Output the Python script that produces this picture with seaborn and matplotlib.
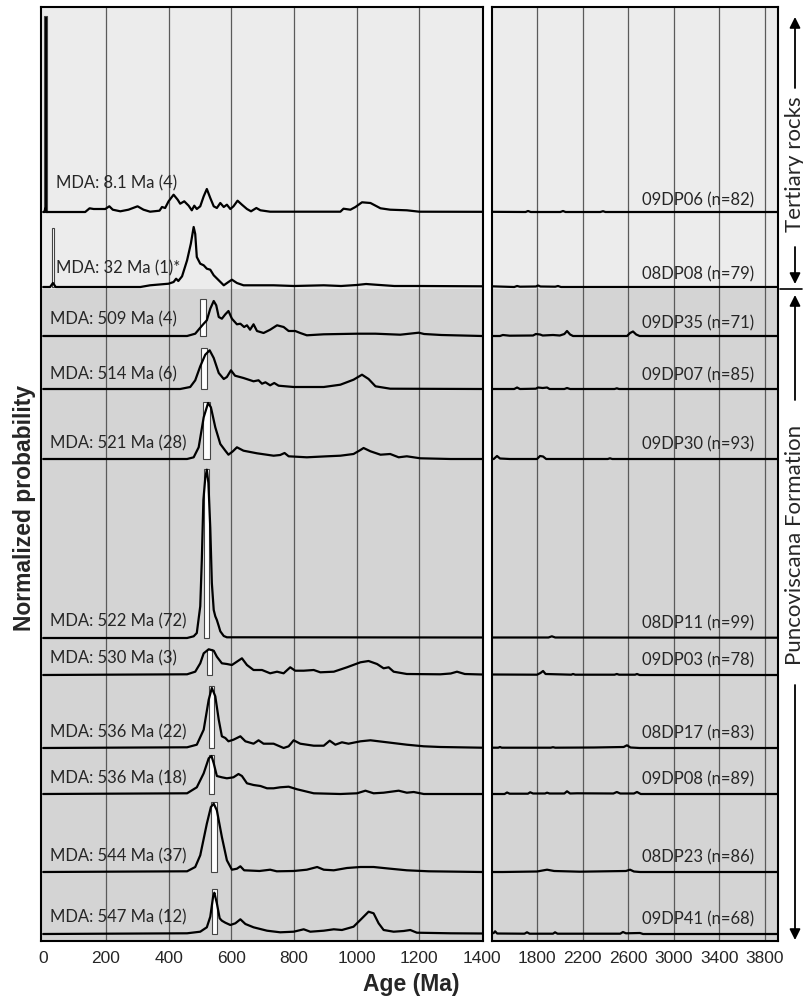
import numpy as np
import pandas as pd
import matplotlib.pyplot as plt
import seaborn as sns

# samples, top to bottom
samples = ['09DP06', '08DP08', '09DP35', '09DP07', '09DP30', '08DP11',
           '09DP03', '08DP17', '09DP08', '08DP23', '09DP41']
n_grains = [82, 79, 71, 85, 93, 99, 78, 83, 89, 86, 68]
mda_age = [8.1, 32, 509, 514, 521, 522, 530, 536, 536, 544, 547]
mda_n = [4, 1, 4, 6, 28, 72, 3, 22, 18, 37, 12]
mda_mark = ['', '*', '', '', '', '', '', '', '', '', '']
mda_err = [4, 4, 10, 9, 10, 7.5, 8, 8, 8, 9, 9]
mda_top = [196, 59, 36.7, 40.7, 56.7, 169, 25.7, 61.7, 39, 70, 44.7]

# probability curves (age in Ma, height above baseline)
age_09DP06 = [0, 4, 7, 10, 134, 148, 161, 198, 211, 222, 246, 272, 301, 320, 341, 371, 379, 389, 400, 416,
              429, 437, 450, 464, 474, 482, 490, 501, 512, 522, 533, 544, 554, 565, 576, 586, 597, 607, 620,
              634, 650, 663, 680, 693, 724, 948, 958, 980, 996, 1017, 1044, 1076, 1107, 1160, 1200, 1700,
              1721, 1745, 2005, 2028, 2050, 2355, 2379, 2400, 3914]
prob_09DP06 = [0, 0, 4, 0, 0, 3.7, 3, 3, 5.7, 2.3, 0.7, 2.3, 5.7, 2.3, 0.3, 1.3, 5, 4, 10.7, 17.3,
               12.3, 8.3, 10.7, 6.3, 1.7, 6.3, 3, 5.7, 15.7, 23, 14, 5.7, 4, 9, 5, 7.3, 3, 5.7, 11.3,
               7.3, 3, 0.7, 4, 1.7, 0.3, 0.3, 3.3, 2.3, 5, 9.7, 9, 3.7, 2.3, 1.7, 0.3, 0,
               1, 0, 0, 1, 0, 0, 0.8, 0, 0]

age_08DP08 = [0, 22, 31, 40, 310, 341, 400, 416, 424, 431, 443, 459, 471, 480, 485, 490, 501, 512, 522, 533,
              544, 560, 576, 591, 602, 618, 639, 680, 735, 800, 895, 950, 1000, 1030, 1060, 1120, 1200, 1400,
              1600, 1625, 1650, 1790, 1809, 1830, 1960, 1984, 2010, 3914]
prob_08DP08 = [0, 0, 4, 0, 0, 1.7, 3.3, 5, 8.3, 6, 10.7, 26.7, 43.3, 60, 53, 30, 23.3, 21.7, 18.3, 17.3,
               11.7, 6.7, 1.7, 5, 7.3, 4, 1.7, 1.7, 1.7, 1, 1.7, 1, 2, 3, 2.3, 1, 1, 0.7,
               0, 1, 0.3, 0.5, 1.5, 0.5, 0.3, 1, 0, 0]

age_09DP35 = [0, 459, 485, 501, 512, 522, 533, 544, 552, 560, 570, 581, 591, 602, 618, 629, 641, 650, 660, 671,
              682, 703, 724, 746, 767, 783, 804, 820, 841, 895, 1001, 1060, 1139, 1198, 1215, 1270, 1400, 1475,
              1500, 1560, 1765, 1790, 1826, 1850, 1940, 2000, 2040, 2063, 2090, 2116, 2590, 2616, 2642, 2670,
              2700, 3914]
prob_09DP35 = [0, 0, 2.3, 8.3, 12.3, 15.7, 27.3, 35, 30.7, 19, 17.3, 21.7, 25, 17.3, 11.7, 12.3, 9, 10.7, 6.3, 11.7,
               5, 3, 6.3, 10.7, 9, 5, 5, 3, 0.7, 1.7, 2.3, 2.3, 1.3, 3.3, 2, 1, 0, 0,
               1, 0.3, 0.5, 2, 1.5, 0.5, 1, 0.5, 2, 5, 1.5, 0, 0, 3, 4.5, 1.5,
               0, 0]

age_09DP07 = [0, 437, 469, 485, 501, 517, 531, 544, 560, 576, 586, 599, 612, 639, 671, 687, 698, 709, 724, 737,
              751, 799, 895, 948, 990, 1017, 1038, 1060, 1107, 1400, 1600, 1625, 1650, 1790, 1809, 1850, 1888,
              1910, 2040, 2063, 2090, 2480, 2500, 2520, 3914]
prob_09DP07 = [0, 0, 2, 8.7, 22.7, 34.3, 38.7, 31, 16, 10, 12, 18.7, 13.3, 11, 7.7, 8.7, 5.3, 6.7, 3.7, 6,
               3.3, 2, 2, 4.3, 9.3, 14.3, 10, 2.7, 0.3, 0, 0, 1.5, 0, 0.3, 1.5, 1, 1.5,
               0, 0, 1, 0, 0, 0.7, 0, 0]

age_09DP30 = [0, 459, 480, 496, 512, 526, 535, 549, 565, 581, 591, 605, 618, 639, 682, 735, 756, 770, 783, 841,
              905, 948, 990, 1012, 1022, 1044, 1076, 1107, 1134, 1160, 1203, 1300, 1420, 1449, 1475, 1560,
              1800, 1826, 1853, 1880, 2420, 2440, 2460, 3914]
prob_09DP30 = [0, 0, 1.7, 11.7, 41.7, 56, 51.7, 31.7, 15, 8.3, 4.3, 7.7, 11.7, 8.3, 5.7, 3.3, 4, 6, 2.7, 1.7,
               2.7, 3.3, 5, 9, 11, 7.7, 4.3, 5, 1.7, 2.7, 0.7, 0, 0, 3, 0.5, 0,
               0, 3, 2.5, 0, 0, 0.7, 0, 0]

age_08DP11 = [0, 459, 480, 490, 501, 506, 511, 517, 522, 527, 533, 538, 544, 549, 554, 560, 565, 576, 586, 629,
              1400, 1900, 1930, 1960, 3914]
prob_08DP11 = [0, 0, 1.7, 5, 31.7, 78, 138, 160, 168.3, 155, 110, 55, 28, 21.7, 18, 12, 6.7, 2, 0.7, 0.7,
               0.5, 0.5, 1.7, 0.5, 0.3]

age_09DP03 = [0, 459, 485, 501, 512, 528, 544, 554, 570, 586, 602, 613, 634, 650, 671, 698, 724, 746, 767, 788,
              804, 831, 863, 884, 927, 969, 1012, 1038, 1065, 1086, 1102, 1118, 1160, 1267, 1300, 1320, 1345,
              1400, 1800, 1830, 1853, 1875, 2100, 2116, 2135, 2480, 2500, 2520, 2660, 2677, 2700, 3914]
prob_09DP03 = [0, 0.7, 3.3, 11.7, 21.7, 25.7, 24.3, 18.3, 11.7, 11, 10, 12.3, 16.7, 10, 5, 5, 1.7, 3.3, 1.7, 7.7,
               4.3, 4.3, 5, 2.7, 3.3, 7.7, 12.7, 14, 11, 6.7, 7.7, 3.3, 1, 0.7, 1.5, 3.3, 1,
               0.5, 0.3, 2, 4, 1, 0.3, 1, 0.3, 0.3, 1, 0.3, 0.3, 1, 0, 0]

age_08DP17 = [0, 459, 490, 512, 528, 538, 549, 560, 570, 581, 591, 607, 629, 645, 671, 687, 703, 735, 767, 783,
              799, 820, 863, 895, 914, 932, 953, 974, 1012, 1044, 1097, 1160, 1214, 1267, 1400, 1460, 1475,
              1490, 1920, 1940, 1960, 2300, 2560, 2589, 2620, 2700, 3914]
prob_08DP17 = [0, 0.7, 3.3, 18.3, 48.3, 60, 51.7, 28.3, 11.7, 10, 6.7, 8.3, 11.7, 6.7, 4.3, 7.7, 4.3, 4.3, 0, 1.7,
               7.7, 4.3, 2.3, 2.3, 7.3, 3.3, 5.7, 4.3, 6.7, 7.7, 5.7, 3.3, 1.7, 1, 0.3, 0.3, 1,
               0.3, 0.3, 0.8, 0.3, 0.5, 1, 2.7, 0.5, 0, 0]

age_09DP08 = [0, 459, 490, 512, 528, 537, 544, 554, 570, 586, 607, 623, 634, 650, 671, 693, 714, 735, 756, 783,
              810, 863, 948, 1001, 1028, 1054, 1086, 1134, 1160, 1182, 1214, 1400, 1515, 1537, 1560, 1720,
              1740, 1765, 1870, 1888, 1910, 2040, 2063, 2090, 2151, 2470, 2500, 2530, 2650, 2677, 2710, 3914]
prob_09DP08 = [0, 0.7, 6.7, 20.7, 35.7, 38, 30.7, 18, 16.7, 15.7, 16.7, 20, 18, 10.7, 9, 8, 5.7, 5.7, 6.7, 7.3,
               4.7, 0.7, 0, 0.7, 3.3, 0.7, 1.3, 3.3, 1.3, 2, 0, 0, 0, 1.5, 0.3, 0.3,
               1.7, 0.5, 0.5, 1.3, 0.5, 0.5, 2.7, 0.5, 0.7, 0.5, 2, 0.5, 0.5, 2, 0, 0]

age_08DP23 = [0, 459, 485, 501, 522, 535, 544, 554, 570, 586, 602, 618, 629, 641, 690, 724, 745, 799, 841, 874,
              895, 927, 969, 1012, 1054, 1107, 1160, 1230, 1400, 1500, 1800, 1888, 1950, 2177, 2400, 2580,
              2616, 2650, 2703, 3914]
prob_08DP23 = [0, 0.7, 5, 16.7, 48.3, 65, 68.3, 61.7, 35, 11.7, 2.3, 3.3, 5.7, 1.7, 1, 2.3, 0.7, 1, 2.3, 5,
               2.3, 1.7, 4, 5, 5, 3.3, 1.7, 0.7, 0, 0, 0.5, 2.3, 1, 0.3, 0.7, 1,
               2.3, 0.5, 0, 0]

age_09DP41 = [0, 459, 501, 522, 533, 542, 546, 554, 563, 570, 581, 597, 613, 629, 645, 671, 714, 756, 799, 831,
              852, 895, 927, 953, 990, 1017, 1038, 1054, 1070, 1086, 1118, 1150, 1171, 1192, 1300, 1400, 1420,
              1432, 1450, 1690, 1712, 1735, 1940, 1958, 1980, 2530, 2554, 2580, 2703, 2730, 3914]
prob_09DP41 = [0, 0.7, 2.3, 6.7, 17.3, 37.3, 41.3, 30.7, 15.7, 13.3, 11.3, 9, 10.7, 14.7, 10, 6.7, 3.3, 1.7, 2.3, 4.7,
               2.3, 3.3, 4.7, 4, 7.3, 15.7, 22.3, 20.7, 10.7, 4, 2.3, 3, 4, 1.3, 0.7, 0.5, 1,
               2.7, 0.5, 0.3, 1.7, 0.3, 0.3, 1.7, 0.3, 0.3, 2, 0.7, 1, 0, 0]

curve_ages = [age_09DP06, age_08DP08, age_09DP35, age_09DP07, age_09DP30, age_08DP11,
              age_09DP03, age_08DP17, age_09DP08, age_08DP23, age_09DP41]
curve_probs = [prob_09DP06, prob_08DP08, prob_09DP35, prob_09DP07, prob_09DP30, prob_08DP11,
               prob_09DP03, prob_08DP17, prob_09DP08, prob_08DP23, prob_09DP41]

# layout: vertical offset of each curve (axis pixels from the bottom)
baseline = [729, 654, 605, 552, 482, 303, 266, 193, 147, 69, 7]
mda_dy = [29, 19, 17, 15, 16, 17, 17, 16, 16, 16, 17]
name_dy = [12, 13, 13, 14, 15, 15, 15, 15, 15, 15, 15]

light = '#ececec'
dark = '#d4d4d4'

rows = []
for s, base, ages, probs in zip(samples, baseline, curve_ages, curve_probs):
    for a, p in zip(ages, probs):
        rows.append({'sample': s, 'age': a, 'y': base + p})
df = pd.DataFrame(rows)

sns.set_style('white')
plt.rcParams['font.family'] = ['Liberation Sans', 'DejaVu Sans']

fig = plt.figure(figsize=(8.04, 10.02), dpi=100)
ax_l = fig.add_axes([41 / 804, 61 / 1002, 442 / 804, 934 / 1002])
ax_r = fig.add_axes([492 / 804, 61 / 1002, 286 / 804, 934 / 1002])

for ax, xlim, grid, ticks in [(ax_l, (-7, 1403), range(200, 1400, 200), range(0, 1600, 200)),
                              (ax_r, (1405, 3914), range(1800, 4200, 400), range(1800, 4200, 400))]:
    ax.set_facecolor(dark)
    ax.axhspan(652, 934, color=light, zorder=0.2, lw=0)
    for g in grid:
        ax.axvline(g, color='#5a5a5a', lw=0.9, zorder=0.6)
    sns.lineplot(data=df, x='age', y='y', units='sample', estimator=None, sort=False,
                 color='black', lw=1.6, ax=ax, zorder=3)
    ax.set_xlim(*xlim)
    ax.set_ylim(0, 934)
    ax.set_yticks([])
    ax.set_xticks(list(ticks))
    ax.set_xticklabels([str(t) for t in ticks], fontsize=12.5)
    ax.tick_params(axis='x', length=0, pad=7)
    ax.set_xlabel('')
    ax.set_ylabel('')
    for sp in ax.spines.values():
        sp.set_visible(True)
        sp.set_color('black')
        sp.set_linewidth(1.5)

# MDA bars
bar_colors = ['black'] + ['white'] * (len(samples) - 1)
ax_l.bar(mda_age, mda_top, width=[2 * e for e in mda_err], bottom=baseline,
         color=bar_colors, edgecolor='#444444', lw=0.8, zorder=2)

# labels
for i, s in enumerate(samples):
    x0 = 40 if i < 2 else 22
    ax_l.text(x0, baseline[i] + mda_dy[i], f'MDA: {mda_age[i]:g} Ma ({mda_n[i]}){mda_mark[i]}',
              family='Lato', fontsize=12, ha='left', va='center', zorder=4)
    ax_r.text(3705, baseline[i] + name_dy[i], f'{s} (n={n_grains[i]})',
              family='Lato', fontsize=12, ha='right', va='center', zorder=4)

fig.text(25 / 804, 1 - 508 / 1002, 'Normalized probability', rotation=90,
         fontsize=16.5, fontweight='bold', ha='center', va='center')
fig.text(411 / 804, 1 - 985 / 1002, 'Age (Ma)', fontsize=16.5, fontweight='bold',
         ha='center', va='center')

# group brackets on the right
arrow = dict(arrowstyle='-|>', color='black', lw=1.3, mutation_scale=16, shrinkA=0, shrinkB=0)
for y_from, y_to in [(88, 17), (247, 284), (400, 295), (685, 940)]:
    ax_r.annotate('', xy=(795, 1002 - y_to), xytext=(795, 1002 - y_from),
                  xycoords='figure pixels', textcoords='figure pixels',
                  arrowprops=arrow, annotation_clip=False)
fig.add_artist(plt.Line2D([780 / 804, 802 / 804], [1 - 289 / 1002, 1 - 289 / 1002],
                          color='black', lw=1.2))
fig.text(795 / 804, 1 - 164 / 1002, 'Tertiary rocks', rotation=90, family='Lato',
         fontsize=16, ha='center', va='center')
fig.text(795 / 804, 1 - 545 / 1002, 'Puncoviscana Formation', rotation=90, family='Lato',
         fontsize=16, ha='center', va='center')

fig.savefig('out.png', dpi=100)
